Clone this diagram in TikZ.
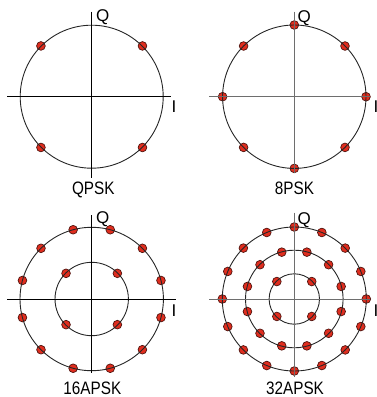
\documentclass[tikz,border=0pt]{standalone}
\usepackage{fontspec}
\setmainfont{Liberation Sans}
\definecolor{dotred}{RGB}{224,45,30}
\definecolor{dotline}{RGB}{80,20,15}
\definecolor{axgray}{RGB}{110,110,110}
\begin{document}
\begin{tikzpicture}[x=1pt,y=-1pt,
  dot/.style={circle,fill=dotred,draw=dotline,line width=0.7pt,inner sep=0pt,minimum size=8.7pt},
  ring/.style={draw=black!85,line width=0.9pt},
  axisblack/.style={draw=black,line width=0.9pt},
  axisgray/.style={draw=axgray,line width=0.9pt},
  axlabel/.style={inner sep=0pt,font=\fontsize{17}{17}\selectfont},
  title/.style={inner sep=0pt,anchor=base,xscale=0.85,font=\fontsize{18}{18}\selectfont}]
\useasboundingbox (0,0) rectangle (377,397);
% centres
\coordinate (c1) at (91.7,96.7);
\coordinate (c2) at (294.3,96.7);
\coordinate (c3) at (91.7,299);
\coordinate (c4) at (294.3,299);
% ---- QPSK
\foreach \a [count=\i] in {45,135,225,315}
  \node[dot] (qp\i) at ([shift={(\a:71.8)}]c1) {};
\draw[ring] (c1) circle[radius=71.5];
\coordinate (qh1) at (7,96.7);  \coordinate (qh2) at (171,96.7);
\coordinate (qv1) at (91.7,11.7); \coordinate (qv2) at (91.7,178);
\draw[axisblack] (qh1) -- (qh2);
\draw[axisblack] (qv1) -- (qv2);
\node[axlabel,anchor=base west] (qQ) at (96,21.3) {Q};
\node[axlabel,anchor=base west] (qI) at (171.5,112.7) {I};
\node[title] (qt) at (93.3,194.5) {QPSK};
% ---- 8PSK
\foreach \a [count=\i] in {0,45,...,315}
  \node[dot] (ep\i) at ([shift={(\a:71.7)}]c2) {};
\draw[ring] (c2) circle[radius=71.7];
\coordinate (eh1) at (209.3,96.7); \coordinate (eh2) at (370,96.7);
\coordinate (ev1) at (294.3,11.7); \coordinate (ev2) at (294.3,173);
\draw[axisgray] (eh1) -- (eh2);
\draw[axisgray] (ev1) -- (ev2);
\node[axlabel,anchor=base west] (eQ) at (297.5,22) {Q};
\node[axlabel,anchor=base west] (eI) at (373.5,112.5) {I};
\node[title] (et) at (294.5,194.5) {8PSK};
% ---- 16APSK
\foreach \a [count=\i] in {45,135,225,315}
  \node[dot] (si\i) at ([shift={(\a:36.3)}]c3) {};
\foreach \a [count=\i] in {15,45,...,345}
  \node[dot] (so\i) at ([shift={(\a:71.7)}]c3) {};
\draw[ring] (c3) circle[radius=36.7];
\draw[ring] (c3) circle[radius=71.7];
\coordinate (sh1) at (7,299); \coordinate (sh2) at (175.7,299);
\coordinate (sv1) at (91.7,215); \coordinate (sv2) at (91.7,373);
\draw[axisblack] (sh1) -- (sh2);
\draw[axisblack] (sv1) -- (sv2);
\node[axlabel,anchor=base west] (sQ) at (96,223) {Q};
\node[axlabel,anchor=base west] (sI) at (171.5,316.7) {I};
\node[title] (st) at (92.4,394) {16APSK};
% ---- 32APSK
\foreach \a [count=\i] in {45,135,225,315}
  \node[dot] (ti\i) at ([shift={(\a:24.7)}]c4) {};
\foreach \a [count=\i] in {15,45,...,345}
  \node[dot] (tm\i) at ([shift={(\a:48.5)}]c4) {};
\foreach \a [count=\i] in {0,22.5,...,337.5}
  \node[dot] (to\i) at ([shift={(\a:72)}]c4) {};
\draw[ring] (c4) circle[radius=25.2];
\draw[ring] (c4) circle[radius=48.8];
\draw[ring] (c4) circle[radius=72];
\coordinate (th1) at (209.3,299); \coordinate (th2) at (370,299);
\coordinate (tv1) at (294.3,212.7); \coordinate (tv2) at (294.3,376.7);
\draw[axisgray] (th1) -- (th2);
\draw[axisgray] (tv1) -- (tv2);
\node[axlabel,anchor=base west] (tQ) at (297.5,224) {Q};
\node[axlabel,anchor=base west] (tI) at (373.5,316.7) {I};
\node[title] (tt) at (295,394.5) {32APSK};
\end{tikzpicture}
\end{document}
